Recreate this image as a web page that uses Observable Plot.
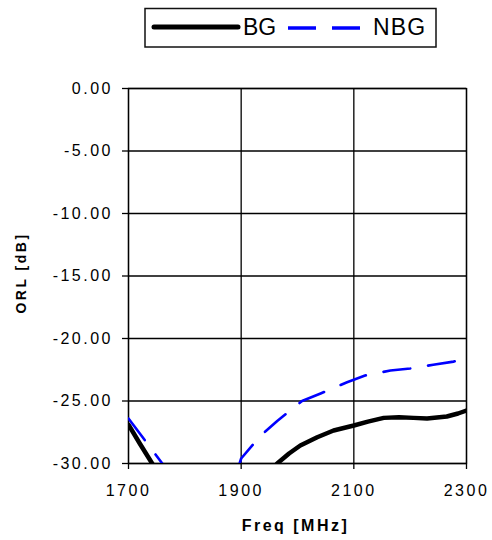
<!DOCTYPE html>
<html>
<head>
<meta charset="utf-8">
<script src="https://cdn.jsdelivr.net/npm/d3@7"></script>
<script src="https://cdn.jsdelivr.net/npm/@observablehq/plot@0.6"></script>
<style>
  html, body { margin: 0; padding: 0; background: white; }
  #wrap { position: relative; width: 492px; height: 540px; }
  #legend { position: absolute; left: 0; top: 0; }
</style>
</head>
<body>
<div id="wrap"></div>
<script>
// ---- data ----
const seriesNames = ["BG", "NBG"];

// BG (black, solid) – visible pieces; values below -30 dB are clipped by the frame
const bgFreq   = [1700, 1720, 1742, 1752,   1955, 1964, 1985, 2005, 2035, 2064, 2100, 2125, 2153, 2180, 2206, 2230, 2265, 2285, 2300];
const bgValues = [-26.9, -28.4, -30.0, -30.7, -30.5, -30.0, -29.2, -28.56, -27.9, -27.36, -26.96, -26.65, -26.35, -26.3, -26.35, -26.4, -26.24, -26.0, -25.76];
const bgPiece  = [0, 0, 0, 0, 1, 1, 1, 1, 1, 1, 1, 1, 1, 1, 1, 1, 1, 1, 1];

// NBG (blue, dashed)
const nbgFreq   = [1700, 1730, 1760, 1770,   1895, 1900, 1934, 1964, 2008, 2041, 2088, 2120, 2165, 2200, 2241, 2277, 2300];
const nbgValues = [-26.4, -28.2, -30.0, -30.6, -30.3, -29.6, -27.8, -26.6, -25.0, -24.4, -23.5, -22.96, -22.56, -22.4, -22.1, -21.85, -21.6];
const nbgPiece  = [0, 0, 0, 0, 1, 1, 1, 1, 1, 1, 1, 1, 1, 1, 1, 1, 1];

const xTicks = [1700, 1900, 2100, 2300];
const yTicks = [0, -5, -10, -15, -20, -25, -30];
const xTitle = "Freq [MHz]";
const yTitle = "ORL [dB]";

const bg  = bgFreq.map((f, i) => ({freq: f, orl: bgValues[i], piece: bgPiece[i]}));
const nbg = nbgFreq.map((f, i) => ({freq: f, orl: nbgValues[i], piece: nbgPiece[i]}));

const chart = Plot.plot({
  width: 492,
  height: 540,
  marginTop: 88,
  marginBottom: 77,
  marginLeft: 128,
  marginRight: 26,
  style: {
    fontFamily: "'Liberation Sans', Arial, sans-serif",
    fontSize: "16px",
    color: "black",
    background: "white",
    letterSpacing: "2.5px"
  },
  x: {domain: [1700, 2300]},
  y: {domain: [-30, 0]},
  marks: [
    Plot.gridX(xTicks, {stroke: "black", strokeOpacity: 1, strokeWidth: 1.3}),
    Plot.gridY(yTicks, {stroke: "black", strokeOpacity: 1, strokeWidth: 1.3}),
    Plot.frame({stroke: "black", strokeWidth: 1.3}),
    Plot.line(bg, {x: "freq", y: "orl", z: "piece", stroke: "black", strokeWidth: 4.5, clip: true}),
    Plot.line(nbg, {x: "freq", y: "orl", z: "piece", stroke: "#0000ff", strokeWidth: 2.6, strokeDasharray: "27,18", clip: true}),
    Plot.axisX({ticks: xTicks, tickSize: 6, tickPadding: 15, label: null, tickFormat: d => String(d), stroke: "black", strokeWidth: 1.3}),
    Plot.axisY({ticks: yTicks, tickSize: 6, tickPadding: 9.5, label: null, tickFormat: d => d.toFixed(2), stroke: "black", strokeWidth: 1.3}),
    Plot.text([xTitle], {frameAnchor: "bottom", textAnchor: "middle", lineAnchor: "middle", dy: 62.5, dx: -2, text: d => d, fontWeight: "bold", fontSize: 16}),
    Plot.text([yTitle], {frameAnchor: "left", textAnchor: "middle", lineAnchor: "middle", dx: -107, dy: -3, rotate: -90, text: d => d, fontWeight: "bold", fontSize: 14})
  ]
});

const wrap = document.getElementById("wrap");
wrap.appendChild(chart);

// ---- legend (drawn above the plot area) ----
const ns = "http://www.w3.org/2000/svg";
const lg = document.createElementNS(ns, "svg");
lg.setAttribute("id", "legend");
lg.setAttribute("width", "492");
lg.setAttribute("height", "60");
lg.innerHTML = `
  <rect x="145" y="8.5" width="291" height="38.5" fill="white" stroke="#111" stroke-width="1.5"/>
  <line x1="154" y1="27" x2="238" y2="27" stroke="black" stroke-width="5" stroke-linecap="round"/>
  <text x="243" y="35" font-family="'Liberation Sans', Arial, sans-serif" font-size="23" fill="black">${seriesNames[0]}</text>
  <line x1="288" y1="28" x2="360" y2="28" stroke="#0000ff" stroke-width="3.5" stroke-dasharray="28,16"/>
  <text x="373" y="35" font-family="'Liberation Sans', Arial, sans-serif" font-size="23" letter-spacing="1.2" fill="black">${seriesNames[1]}</text>
`;
wrap.appendChild(lg);
</script>
</body>
</html>
